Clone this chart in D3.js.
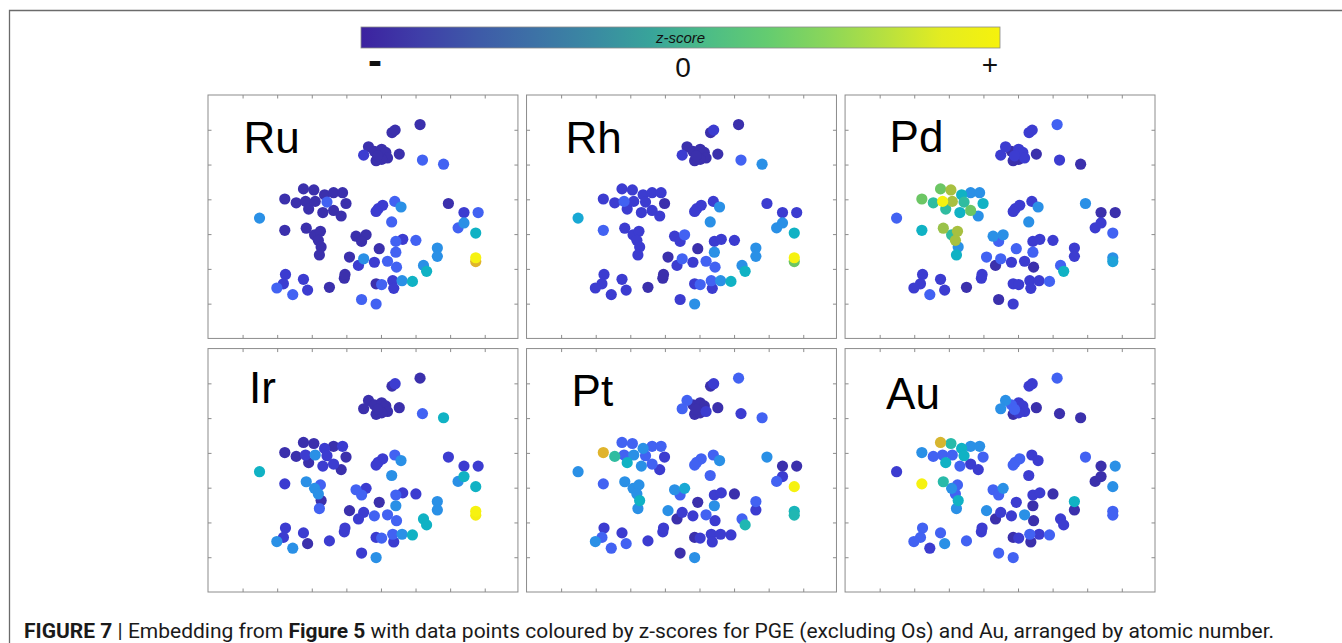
<!DOCTYPE html>
<meta charset="utf-8">
<style>
body { margin: 0; background: #fff; }
svg { display: block; font-family: "Liberation Sans", Arial, sans-serif; }
</style>
<svg width="1342" height="643"></svg>
<script src="https://d3js.org/d3.v7.min.js"></script>
<script>

// embedding coordinates (same for every panel)
var embX = [
  6.13, 5.32, 5.41, 4.64, 4.50, 4.81, 4.86, 5.02, 5.14, 5.19, 5.02, 5.53, 4.90, 6.20, 6.81,
  2.22, 2.76, 3.06, 2.55, 2.82, 2.91, 3.10, 3.37, 3.44, 3.63, 3.89, 3.99, 3.32, 3.63, 3.85,
  1.49, 2.22, 2.84, 3.08, 3.25, 3.19, 3.27, 3.22,
  4.92, 5.05, 4.86, 5.40, 5.58, 5.31, 4.28, 4.57, 4.44, 5.43, 5.63, 6.01, 4.95, 5.43, 4.09, 4.50, 4.35,
  4.81, 5.19, 5.45, 3.94, 3.96, 4.86, 5.02, 5.34, 5.37, 5.61, 5.91, 4.44, 4.86, 6.23, 6.32, 6.63, 6.63,
  2.24, 2.18, 1.99, 2.45, 2.76, 2.88, 3.51,
  6.95, 7.40, 7.81, 7.23, 7.40, 7.74, 7.74, 7.74
];
var embY = [
  6.15, 5.92, 5.99, 5.51, 5.27, 5.38, 5.11, 5.44, 5.35, 5.19, 5.15, 5.30, 5.25, 5.13, 5.01,
  4.01, 4.30, 4.27, 3.90, 3.94, 3.72, 3.94, 4.13, 3.92, 4.19, 4.19, 3.88, 3.62, 3.68, 3.52,
  3.46, 3.11, 3.17, 2.98, 3.08, 2.82, 2.63, 2.40,
  3.73, 3.83, 3.65, 3.94, 3.78, 3.35, 2.94, 2.98, 2.79, 2.79, 2.85, 2.82, 2.58, 2.48, 2.34, 2.29, 2.10,
  2.19, 2.22, 2.05, 1.73, 1.84, 1.57, 1.55, 1.66, 1.44, 1.66, 1.64, 1.12, 0.99, 2.10, 1.93, 2.60, 2.36,
  1.84, 1.57, 1.45, 1.26, 1.70, 1.39, 1.47,
  3.88, 3.62, 3.62, 3.18, 3.32, 3.03, 2.32, 2.21
];

// z-scores, scaled to [-1, 1]
var zRu = [
  -0.95,-0.95,-0.95,-0.95,-0.84,-0.95,-0.95,-0.95,-0.95,-0.95,-0.95,-0.95,-0.95,-0.64,-0.64,
  -0.95,-0.95,-0.95,-0.95,-0.95,-0.95,-0.95,-0.95,-0.64,-0.95,-0.95,-0.95,-0.95,-0.95,-0.95,
  -0.4,-0.95,-0.95,-0.95,-0.95,-0.95,-0.95,-0.95,
  -0.84,-0.84,-0.84,-0.64,-0.4,-0.64,-0.95,-0.95,-0.95,-0.64,-0.84,-0.64,-0.95,-0.64,-0.95,-0.4,-0.84,
  -0.84,-0.64,-0.64,-0.95,-0.95,-0.95,-0.64,-0.84,-0.84,-0.4,-0.1,-0.64,-0.64,-0.4,-0.1,-0.4,-0.4,
  -0.84,-0.84,-0.64,-0.64,-0.84,-0.84,-0.95,
  -0.95,-0.84,-0.64,-0.64,-0.4,-0.1,1,0.74
];
var zRh = [
  -0.95,-0.95,-0.84,-0.95,-0.84,-0.95,-0.95,-0.95,-0.95,-0.95,-0.95,-0.95,-0.95,-0.64,-0.4,
  -0.84,-0.84,-0.84,-0.84,-0.64,-0.84,-0.84,-0.84,-0.84,-0.84,-0.84,-0.95,-0.84,-0.84,-0.84,
  -0.2,-0.64,-0.84,-0.84,-0.84,-0.84,-0.84,-0.84,
  -0.84,-0.84,-0.84,-0.84,-0.4,-0.4,-0.84,-0.64,-0.84,-0.84,-0.84,-0.84,-0.95,-0.4,-0.95,-0.64,-0.84,
  -0.84,-0.64,-0.64,-0.95,-0.95,-0.84,-0.64,-0.64,-0.84,-0.4,-0.1,-0.84,-0.4,-0.4,-0.1,-0.4,-0.4,
  -0.84,-0.84,-0.84,-0.84,-0.84,-0.84,-0.95,
  -0.84,-0.84,-0.84,-0.4,-0.4,-0.1,1,0.3
];
var zPd = [
  -0.64,-0.84,-0.84,-0.84,-0.84,-0.95,-0.95,-0.84,-0.84,-0.84,-0.95,-0.95,-0.84,-0.84,-0.95,
  0.3,0.3,0.5,0.1,1,0.1,0.5,-0.1,0.1,-0.4,-0.4,-0.1,-0.1,0.3,-0.4,
  -0.64,-0.1,0.45,0.1,0.5,0.5,-0.4,-0.1,
  -0.84,-0.84,-0.84,-0.84,-0.4,-0.4,-0.4,-0.4,-0.64,-0.84,-0.84,-0.84,-0.64,-0.64,-0.64,-0.64,-0.95,
  -0.84,-0.84,-0.95,-0.84,-0.84,-0.84,-0.84,-0.84,-0.84,-0.84,-0.64,-0.95,-0.84,-0.64,-0.1,-0.84,-0.84,
  -0.84,-0.84,-0.84,-0.64,-0.84,-0.84,-0.95,
  -0.4,-0.95,-0.95,-0.84,-0.84,-0.64,-0.4,-0.25
];
var zIr = [
  -0.95,-0.95,-0.84,-0.95,-0.95,-0.95,-0.95,-0.95,-0.95,-0.95,-0.95,-0.95,-0.95,-0.64,-0.1,
  -0.95,-0.95,-0.95,-0.95,-0.84,-0.95,-0.4,-0.84,-0.84,-0.95,-0.84,-0.95,-0.84,-0.84,-0.95,
  -0.1,-0.84,-0.4,-0.4,-0.64,-0.4,-0.95,-0.64,
  -0.84,-0.84,-0.84,-0.64,-0.4,-0.4,-0.64,-0.84,-0.64,-0.64,-0.84,-0.84,-0.95,-0.4,-0.95,-0.84,-0.84,
  -0.64,-0.64,-0.64,-0.84,-0.84,-0.84,-0.64,-0.64,-0.84,-0.4,-0.1,-0.84,-0.4,-0.1,-0.1,-0.4,-0.4,
  -0.84,-0.84,-0.4,-0.4,-0.84,-0.95,-0.84,
  -0.84,-0.84,-0.84,-0.4,-0.1,-0.1,1,0.98
];
var zPt = [
  -0.64,-0.95,-0.84,-0.64,-0.64,-0.95,-0.95,-0.95,-0.95,-0.84,-0.95,-0.95,-0.95,-0.84,-0.64,
  0.74,-0.64,-0.64,0.1,-0.64,-0.1,-0.4,-0.4,-0.64,-0.64,-0.64,-0.84,-0.4,-0.64,-0.84,
  -0.4,-0.64,-0.4,-0.4,-0.4,-0.4,-0.1,-0.4,
  -0.64,-0.64,-0.64,-0.64,-0.4,-0.64,-0.4,-0.2,-0.64,-0.84,-0.84,-0.95,-0.95,-0.4,-0.4,-0.84,-0.95,
  -0.84,-0.64,-0.84,-0.84,-0.84,-0.95,-0.84,-0.84,-0.84,-0.84,-0.84,-0.95,-0.4,-0.64,0.0,-0.64,-0.84,
  -0.84,-0.64,-0.4,-0.64,-0.84,-0.64,-0.84,
  -0.4,-0.95,-0.95,-0.64,-0.84,1,-0.05,0.0
];
var zAu = [
  -0.64,-0.84,-0.84,-0.4,-0.4,-0.64,-0.95,-0.84,-0.84,-0.84,-0.84,-0.95,-0.64,-0.95,-0.95,
  -0.4,0.7,0.05,-0.64,-0.64,-0.1,-0.64,-0.1,-0.1,-0.4,-0.4,-0.64,-0.64,-0.84,-0.84,
  -0.84,1,0.05,-0.4,-0.64,-0.64,-0.1,-0.4,
  -0.64,-0.64,-0.64,-0.84,-0.84,-0.84,-0.64,-0.4,-0.64,-0.84,-0.84,-0.95,-0.84,-0.95,-0.4,-0.84,-0.95,
  -0.84,-0.4,-0.95,-0.84,-0.84,-0.95,-0.84,-0.64,-0.95,-0.84,-0.64,-0.64,-0.64,-0.84,-0.84,-0.1,-0.95,
  -0.64,-0.64,-0.64,-0.84,-0.64,-0.4,-0.64,
  -0.64,-0.95,-0.4,-0.95,-0.95,-0.4,-0.64,-0.64
];

var elements = ["Ru", "Rh", "Pd", "Ir", "Pt", "Au"];
var zScores = [zRu, zRh, zPd, zIr, zPt, zAu];
var barLabels = ["-", "0", "+"];

// point colours as they appear in the figure
var pointRamp = ["#3a2a9c", "#3c3cd0", "#4262f2", "#2a90e6", "#18a8d4", "#10b2c4",
                 "#30bca0", "#6cc664", "#a8c040", "#e0b42c", "#f6f210"];
var pointPos = [0, 0.08, 0.18, 0.30, 0.40, 0.45, 0.55, 0.65, 0.75, 0.87, 1];
// colour bar strip
var barRamp = ["#3c22a0", "#3f3ea8", "#3e5aa8", "#3d72a6", "#3a8aa2", "#38a49a",
               "#4dbd86", "#64cc70", "#8ad65a", "#b6e040", "#e4ec20", "#f6f20c"];

var svg = d3.select("svg");

var color = d3.scaleLinear()
    .domain(pointPos.map(function(p) { return p * 2 - 1; }))
    .range(pointRamp)
    .clamp(true);

// outer figure frame
svg.append("path")
    .attr("d", "M9.5,643V10.5H1342")
    .attr("fill", "none")
    .attr("stroke", "#6b6b6b")
    .attr("stroke-width", 1.3);

// colour bar
var grad = svg.append("defs").append("linearGradient").attr("id", "zbar");
grad.selectAll("stop")
    .data(barRamp)
  .enter().append("stop")
    .attr("offset", function(d, i) { return i / (barRamp.length - 1); })
    .attr("stop-color", function(d) { return d; });

var bx = d3.scaleLinear().domain([0, 1]).range([361, 1000]);

svg.append("rect")
    .attr("x", bx(0)).attr("y", 27)
    .attr("width", bx(1) - bx(0)).attr("height", 21)
    .attr("fill", "url(#zbar)")
    .attr("stroke", "#8a8a8a")
    .attr("stroke-width", 0.8);

svg.append("text")
    .attr("x", bx(0.5)).attr("y", 43)
    .attr("text-anchor", "middle")
    .attr("font-style", "italic")
    .attr("font-size", 15)
    .attr("fill", "#111")
    .text("z-score");

svg.selectAll(".blab")
    .data(barLabels)
  .enter().append("text")
    .attr("class", "blab")
    .attr("x", function(d, i) { return [375, 683, 990][i]; })
    .attr("y", function(d, i) { return [75, 77, 74][i]; })
    .attr("text-anchor", "middle")
    .attr("font-size", function(d, i) { return i === 0 ? 42 : 28; })
    .attr("font-weight", function(d, i) { return i === 0 ? "bold" : "normal"; })
    .attr("fill", "#111")
    .text(function(d) { return d; });

// panels
var cols = d3.scaleBand().domain([0, 1, 2]).range([208, 1155]).paddingInner(0.027);
var rows = d3.scaleBand().domain([0, 1]).range([95, 592]).paddingInner(0.04);
var bw = cols.bandwidth(), bh = rows.bandwidth();

var x = d3.scaleLinear().domain([0, 8.96]).range([0, bw]);
var y = d3.scaleLinear().domain([0, 7]).range([bh, 0]);

var labelPos = [[35.5, 58], [39, 57.5], [44.5, 57], [41, 54], [45, 57], [41, 60]];

var idx = d3.range(embX.length);

elements.forEach(function(el, k) {
  var g = svg.append("g")
      .attr("transform", "translate(" + cols(k % 3) + "," + rows(Math.floor(k / 3)) + ")");

  g.append("rect")
      .attr("width", bw).attr("height", bh)
      .attr("fill", "#fff")
      .attr("stroke", "#8c8c8c")
      .attr("stroke-width", 1);

  var xt = d3.range(1, 9), yt = d3.range(1, 7);
  [
    [d3.axisTop(x).tickValues(xt), "translate(0," + bh + ")"],
    [d3.axisBottom(x).tickValues(xt), "translate(0,0)"],
    [d3.axisRight(y).tickValues(yt), "translate(0,0)"],
    [d3.axisLeft(y).tickValues(yt), "translate(" + bw + ",0)"]
  ].forEach(function(a) {
    var ax = g.append("g")
        .attr("transform", a[1])
        .attr("color", "#8c8c8c")
        .call(a[0].tickSize(3.5).tickFormat(""));
    ax.select(".domain").remove();
  });

  var z = zScores[k];
  var order = idx.slice().sort(function(a, b) { return z[a] - z[b]; });

  g.selectAll("circle")
      .data(order)
    .enter().append("circle")
      .attr("cx", function(i) { return x(embX[i]); })
      .attr("cy", function(i) { return y(embY[i]); })
      .attr("r", 5.6)
      .attr("fill", function(i) { return color(z[i]); });

  g.append("text")
      .attr("x", labelPos[k][0]).attr("y", labelPos[k][1])
      .attr("font-size", 44)
      .attr("fill", "#000")
      .text(el);
});

// caption
var cap = svg.append("text")
    .attr("x", 24).attr("y", 638)
    .attr("font-family", "Roboto, 'Noto Sans', sans-serif")
    .attr("font-size", 21)
    .attr("fill", "#1a1a1a");
cap.append("tspan").attr("font-weight", "bold").text("FIGURE 7");
cap.append("tspan").text(" | Embedding from ");
cap.append("tspan").attr("font-weight", "bold").text("Figure 5");
cap.append("tspan").text(" with data points coloured by z-scores for PGE (excluding Os) and Au, arranged by atomic number.");

</script>
